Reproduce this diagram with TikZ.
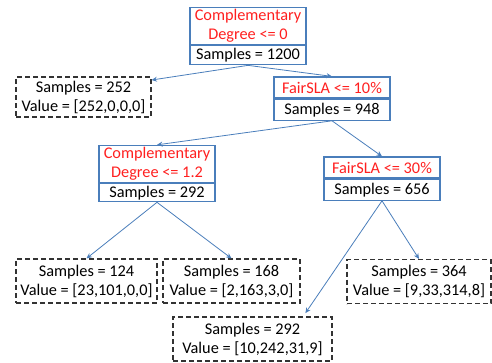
\documentclass[tikz,border=0pt]{standalone}
\usepackage{fontspec}
\setmainfont{Carlito}
\usepackage{tikz}
\usetikzlibrary{arrows.meta,positioning}
\definecolor{splitblue}{HTML}{4A7EBB}
\definecolor{splitred}{HTML}{FF1F1F}
\tikzset{
  box/.style={rectangle, align=center, inner sep=2pt, font=\fontsize{16.3}{19}\selectfont},
  test/.style={box, draw=splitblue, line width=1.2pt, text=splitred, minimum width=116pt, minimum height=21pt},
  cnt/.style={box, draw=splitblue, line width=1.2pt, minimum width=116pt, minimum height=19pt},
  leaf/.style={box, draw=black!80, line width=1.1pt, dash pattern=on 5pt off 3pt, minimum height=44pt},
  arr/.style={-{Stealth[length=5.5pt, width=5pt]}, draw=splitblue, line width=0.8pt}
}

\begin{document}
\begin{tikzpicture}[x=1pt, y=-1pt, node distance=0pt]
\useasboundingbox (0,0) rectangle (492,362);
\node[test, minimum height=34pt] (q0) at (248,26) {Complementary\\Degree <= 0};
\node[cnt, below=of q0] (n0) {Samples = 1200};
\node[test] (q1) at (332,87.5) {FairSLA <= 10\%};
\node[cnt, below=of q1, minimum height=21pt] (n1) {Samples = 948};
\node[test, minimum height=36pt] (q2) at (157,164) {Complementary\\Degree <= 1.2};
\node[cnt, below=of q2, minimum height=17pt] (n2) {Samples = 292};
\node[test] (q3) at (382,167.5) {FairSLA <= 30\%};
\node[cnt, below=of q3, minimum height=21pt] (n3) {Samples = 656};

\node[leaf, minimum width=135pt, minimum height=40pt] (l0) at (83.5,97) {Samples = 252\\Value = [252,0,0,0]};
\node[leaf, minimum width=141pt] (l1) at (86.5,281) {Samples = 124\\Value = [23,101,0,0]};
\node[leaf, minimum width=137pt] (l2) at (231.5,281) {Samples = 168\\Value = [2,163,3,0]};
\node[leaf, minimum width=144pt] (l3) at (419,281.5) {Samples = 364\\Value = [9,33,314,8]};
\node[leaf, minimum width=159pt] (l4) at (252.5,339) {Samples = 292\\Value = [10,242,31,9]};

\draw[arr] (n0.south) -- (l0.14);
\draw[arr] (n0.south) -- (q1.north);
\draw[arr] (n1.south) -- (q2.north);
\draw[arr] (n1.south) -- (q3.north);
\draw[arr] (n2.south) -- (l1.north);
\draw[arr] (n2.south) -- (l2.north);
\draw[arr, shorten >=4pt] (n3.south) -- (l4.24);
\draw[arr] (n3.south) -- (l3.north);
\end{tikzpicture}
\end{document}
